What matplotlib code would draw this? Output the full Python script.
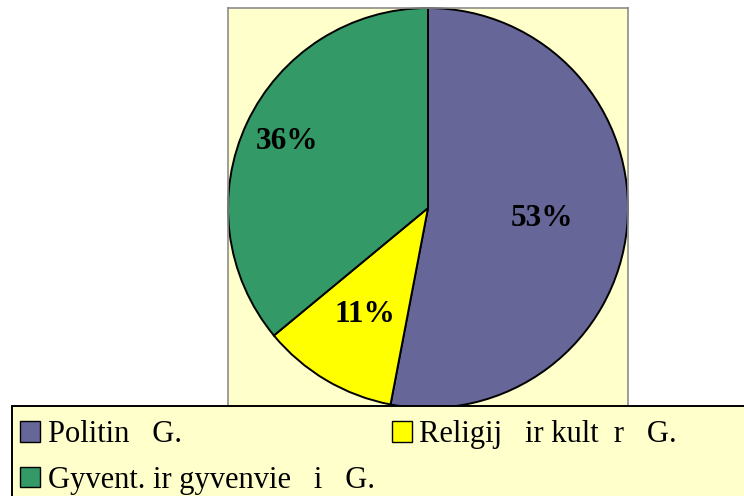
import matplotlib
matplotlib.use("Agg")
import numpy as np
import matplotlib.pyplot as plt
from matplotlib.patches import Patch, Rectangle

# data
labels = ["Politin   G.", "Religij   ir kult  r   G.", "Gyvent. ir gyvenvie   i   G."]
shares = [53, 11, 36]
colors = ["#666699", "#FFFF00", "#339966"]
label_r = [0.57, 0.62, 0.78]  # how far out each % label sits

plt.rcParams["font.family"] = ["Liberation Serif", "DejaVu Serif"]

W, H = 744, 496
fig = plt.figure(figsize=(W / 100, H / 100), dpi=100)
fig.patch.set_facecolor("white")

# plot area (square box that the pie fills)
ax = fig.add_axes([228 / W, (H - 408) / H, 400 / W, 400 / H])

wedges, _ = ax.pie(shares, colors=colors, startangle=90, counterclock=False,
                   radius=1.0, wedgeprops=dict(edgecolor="black", linewidth=1.4))
ax.set_frame_on(True)
ax.set_facecolor("#FFFFCC")
for s in ax.spines.values():
    s.set_color("#8c8c8c")
    s.set_linewidth(1.2)
ax.set_xticks([])
ax.set_yticks([])
ax.set_xlim(-1, 1)
ax.set_ylim(-1, 1)
ax.set_aspect("auto")

# percentage labels at each wedge's mid angle
for w, v, r in zip(wedges, shares, label_r):
    mid = np.deg2rad((w.theta1 + w.theta2) / 2)
    ax.text(r * np.cos(mid), r * np.sin(mid), f"{v}%", ha="center", va="center",
            fontsize=22.5, fontweight="bold", color="black")

# legend box along the bottom
fig.patches.append(Rectangle((12 / W, -0.05), 1.0, (H - 406) / H + 0.05,
                             transform=fig.transFigure, facecolor="#FFFFCC",
                             edgecolor="black", linewidth=1.4, zorder=2))

handles = [Patch(facecolor=c, edgecolor="black", linewidth=1.0) for c in colors]
order = [0, 2, 1]  # legend fills column-first
leg = fig.legend([handles[i] for i in order], [labels[i] for i in order],
                 ncol=2, loc="upper left", bbox_to_anchor=(20 / W, 1 - 420 / H),
                 frameon=False, fontsize=22, handlelength=0.66, handleheight=0.66,
                 handletextpad=0.25, columnspacing=0.55, labelspacing=0.55,
                 borderpad=0.0, borderaxespad=0.0)
leg.set_zorder(3)

fig.savefig("out.png", dpi=100)
